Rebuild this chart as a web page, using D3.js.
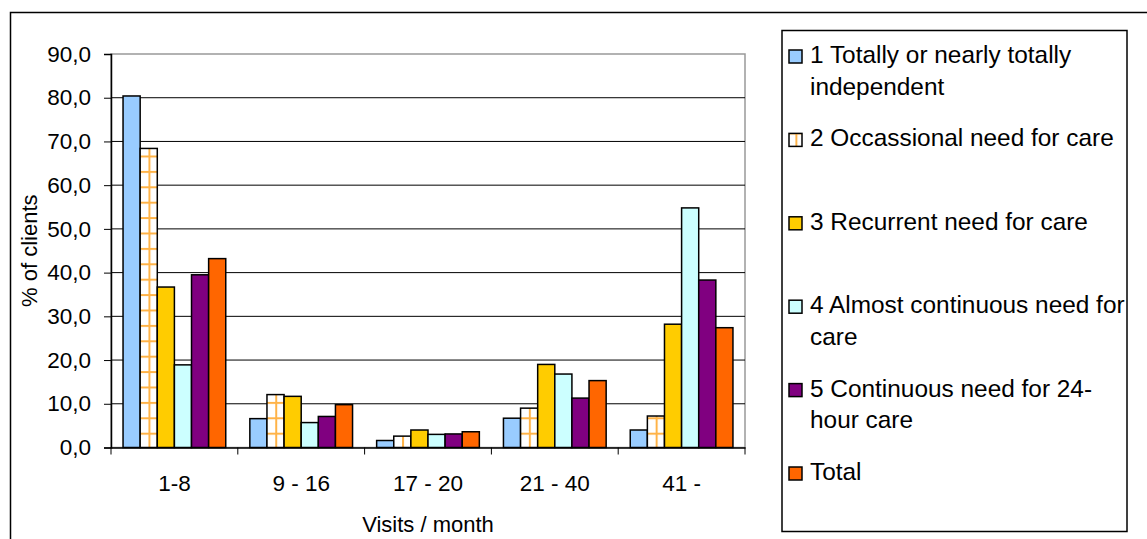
<!DOCTYPE html>
<html><head><meta charset="utf-8">
<script src="https://cdn.jsdelivr.net/npm/d3@7"></script>
<style>
html,body{margin:0;padding:0;background:#fff;}
text{font-family:"Liberation Sans",Arial,sans-serif;fill:#000;}
</style></head>
<body>
<svg id="chart" width="1147" height="539"></svg>
<script>
const categories = ["1-8", "9 - 16", "17 - 20", "21 - 40", "41 -"];
const seriesNames = [
  ["1 Totally or nearly totally", "independent"],
  ["2 Occassional need for care"],
  ["3 Recurrent need for care"],
  ["4 Almost continuous need for", "care"],
  ["5 Continuous need for 24-", "hour care"],
  ["Total"]
];
const s1 = [80.4, 6.6, 1.6, 6.7, 4.0];
const s2 = [68.4, 12.1, 2.6, 9.0, 7.2];
const s3 = [36.7, 11.7, 4.0, 19.0, 28.2];
const s4 = [18.9, 5.7, 3.0, 16.8, 54.8];
const s5 = [39.5, 7.1, 3.1, 11.3, 38.3];
const total = [43.2, 9.8, 3.6, 15.3, 27.4];
const seriesValues = [s1, s2, s3, s4, s5, total];
const yTicks = [0, 10, 20, 30, 40, 50, 60, 70, 80, 90];
const colors = ["#99CCFF", "url(#grid)", "#FFCC00", "#CCFFFF", "#800080", "#FF6600"];

const svg = d3.select("#chart");
const defs = svg.append("defs");
const pat = defs.append("pattern").attr("id", "grid").attr("patternUnits", "userSpaceOnUse")
  .attr("width", 15.4).attr("height", 15.4).attr("x", 10).attr("y", 1.5);
pat.append("rect").attr("width", 15.4).attr("height", 15.4).attr("fill", "#fff");
pat.append("line").attr("x1", 0).attr("x2", 15.4).attr("y1", 1).attr("y2", 1).attr("stroke", "#FFB347").attr("stroke-width", 2);
pat.append("line").attr("x1", 1).attr("x2", 1).attr("y1", 0).attr("y2", 15.4).attr("stroke", "#FFB347").attr("stroke-width", 2);

// outer border
svg.append("rect").attr("x", 10.5).attr("y", 12.5).attr("width", 1200).attr("height", 600)
  .attr("fill", "none").attr("stroke", "#000").attr("stroke-width", 1.5);

const pL = 111, pR = 745, pT = 54, pB = 447.5;
const x0 = d3.scaleBand().domain(categories).range([pL, pR]).paddingInner(0.19).paddingOuter(0.095);
const x1 = d3.scaleBand().domain(d3.range(6)).range([0, x0.bandwidth()]);
const y = d3.scaleLinear().domain([0, 90]).range([pB, pT]);

// plot area border (grey)
svg.append("rect").attr("x", pL).attr("y", pT).attr("width", pR - pL).attr("height", pB - pT)
  .attr("fill", "none").attr("stroke", "#999").attr("stroke-width", 1.5);

// gridlines
svg.append("g").selectAll("line").data(yTicks.filter(d => d > 0 && d < 90)).join("line")
  .attr("x1", pL).attr("x2", pR).attr("y1", d => y(d)).attr("y2", d => y(d))
  .attr("stroke", "#000").attr("stroke-width", 1);

// bars
const groups = svg.append("g").selectAll("g").data(categories).join("g")
  .attr("transform", c => `translate(${x0(c)},0)`);
groups.selectAll("rect").data((c, ci) => seriesValues.map((s, si) => ({si, v: s[ci]}))).join("rect")
  .attr("x", d => x1(d.si)).attr("width", x1.bandwidth())
  .attr("y", d => y(d.v)).attr("height", d => pB - y(d.v))
  .attr("fill", d => colors[d.si]).attr("stroke", "#000").attr("stroke-width", 1.5);

// y axis
const yAxis = d3.axisLeft(y).tickValues(yTicks).tickSize(7).tickPadding(13)
  .tickFormat(d => d3.format(".1f")(d).replace(".", ","));
const yg = svg.append("g").attr("transform", `translate(${pL},0)`).call(yAxis);
yg.select(".domain").attr("stroke", "#000").attr("stroke-width", 1.5);
yg.selectAll(".tick line").attr("stroke", "#000");
yg.selectAll("text").attr("font-size", "22.5px").attr("font-family", "Liberation Sans, Arial, sans-serif").attr("fill", "#000");

// x axis
const xAxis = d3.axisBottom(x0).tickSize(0).tickPadding(28);
const xg = svg.append("g").attr("transform", `translate(0,${pB})`).call(xAxis);
xg.select(".domain").attr("stroke", "#000").attr("stroke-width", 1.5);
xg.selectAll("text").attr("font-size", "22.5px").attr("font-family", "Liberation Sans, Arial, sans-serif").attr("fill", "#000");
const bounds = categories.map(c => x0(c) - x0.step() * x0.paddingInner() / 2).concat([pR]);
svg.append("g").selectAll("line").data(bounds).join("line")
  .attr("x1", d => d).attr("x2", d => d).attr("y1", pB).attr("y2", pB + 7)
  .attr("stroke", "#000").attr("stroke-width", 1);

// axis titles
svg.append("text").attr("x", (pL + pR) / 2).attr("y", 532).attr("text-anchor", "middle")
  .attr("font-size", "22px").text("Visits / month");
svg.append("text").attr("transform", `translate(37,${(pT + pB) / 2}) rotate(-90)`).attr("text-anchor", "middle")
  .attr("font-size", "22px").text("% of clients");

// legend
svg.append("defs").append("clipPath").attr("id", "legclip").append("rect")
  .attr("x", 782).attr("y", 30).attr("width", 345).attr("height", 502);
svg.append("rect").attr("x", 782).attr("y", 30.5).attr("width", 345).attr("height", 501)
  .attr("fill", "#fff").attr("stroke", "#000").attr("stroke-width", 1.5);
const lg = svg.append("g").attr("clip-path", "url(#legclip)").selectAll("g").data(seriesNames).join("g")
  .attr("transform", (d, i) => `translate(0,${63 + i * 83.4})`);
lg.append("rect").attr("x", 789).attr("y", -13).attr("width", 13).attr("height", 13)
  .attr("fill", (d, i) => colors[i]).attr("stroke", "#000").attr("stroke-width", 1.5);
lg.each(function(lines) {
  const t = d3.select(this).append("text").attr("x", 810).attr("y", 0).attr("font-size", "24.4px");
  lines.forEach((l, k) => t.append("tspan").attr("x", 810).attr("dy", k === 0 ? 0 : 31.5).text(l));
});
</script>
</body></html>
